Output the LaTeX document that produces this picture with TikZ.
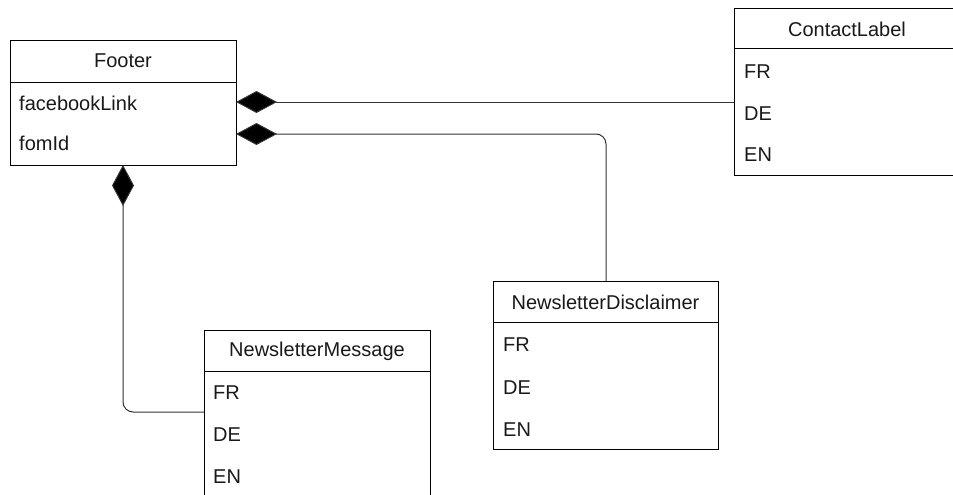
\documentclass[tikz,border=0pt]{standalone}
\usepackage{fontspec}
\setmainfont{Liberation Sans}
\usetikzlibrary{arrows.meta}
\begin{document}
\begin{tikzpicture}[x=1pt,y=-1pt,
  classbox/.style={draw=black,line width=1pt,anchor=north west,inner sep=0pt},
  title/.style={font=\fontsize{20}{23}\selectfont,text=black!90,inner sep=0pt},
  attr/.style={font=\fontsize{20}{23}\selectfont,text=black!90,anchor=west,inner sep=0pt},
  comp/.style={draw=black!80,line width=1pt,rounded corners=10pt,
    {Diamond[length=41pt,width=22pt,fill=black]}-}]
\useasboundingbox (0,0) rectangle (953,495);
\begin{scope}
\clip (0,0) rectangle (953,495);

% Footer class
\node[classbox,minimum width=226pt,minimum height=125pt] (footer) at (10,40) {};
\draw[line width=1pt] (10,82) -- (236,82);
\node[title] (footerT) at (123,61) {Footer};
\node[attr] (fb) at (19,103) {facebookLink};
\node[attr] (fom) at (19,143) {fomId};

% ContactLabel class
\node[classbox,minimum width=226pt,minimum height=167pt] (contact) at (734,8) {};
\draw[line width=1pt] (734,49) -- (960,49);
\node[title] (contactT) at (847,29) {ContactLabel};
\node[attr] (cfr) at (744,72) {FR};
\node[attr] (cde) at (744,114) {DE};
\node[attr] (cen) at (744,155) {EN};

% NewsletterDisclaimer class
\node[classbox,minimum width=225pt,minimum height=168pt] (disc) at (493,281) {};
\draw[line width=1pt] (493,322) -- (718,322);
\node[title] (discT) at (605.5,302) {NewsletterDisclaimer};
\node[attr] (dfr) at (503,345) {FR};
\node[attr] (dde) at (503,388) {DE};
\node[attr] (den) at (503,430) {EN};

% NewsletterMessage class
\node[classbox,minimum width=226pt,minimum height=168pt] (msg) at (204,330) {};
\draw[line width=1pt] (204,371) -- (430,371);
\node[title] (msgT) at (317,351) {NewsletterMessage};
\node[attr] (mfr) at (213,393) {FR};
\node[attr] (mde) at (213,435) {DE};
\node[attr] (men) at (213,477) {EN};

% Composition connectors
\coordinate (fbEnd) at (236,102);
\coordinate (fomEnd) at (236,134);
\coordinate (footBot) at (123,165);
\coordinate (msgIn) at (204,412);
\draw[comp] (fbEnd) -- (fbEnd -| contact.west);
\draw[comp] (fomEnd) -| (disc.north);
\draw[comp] (footBot) |- (msgIn);
\end{scope}
\end{tikzpicture}
\end{document}
